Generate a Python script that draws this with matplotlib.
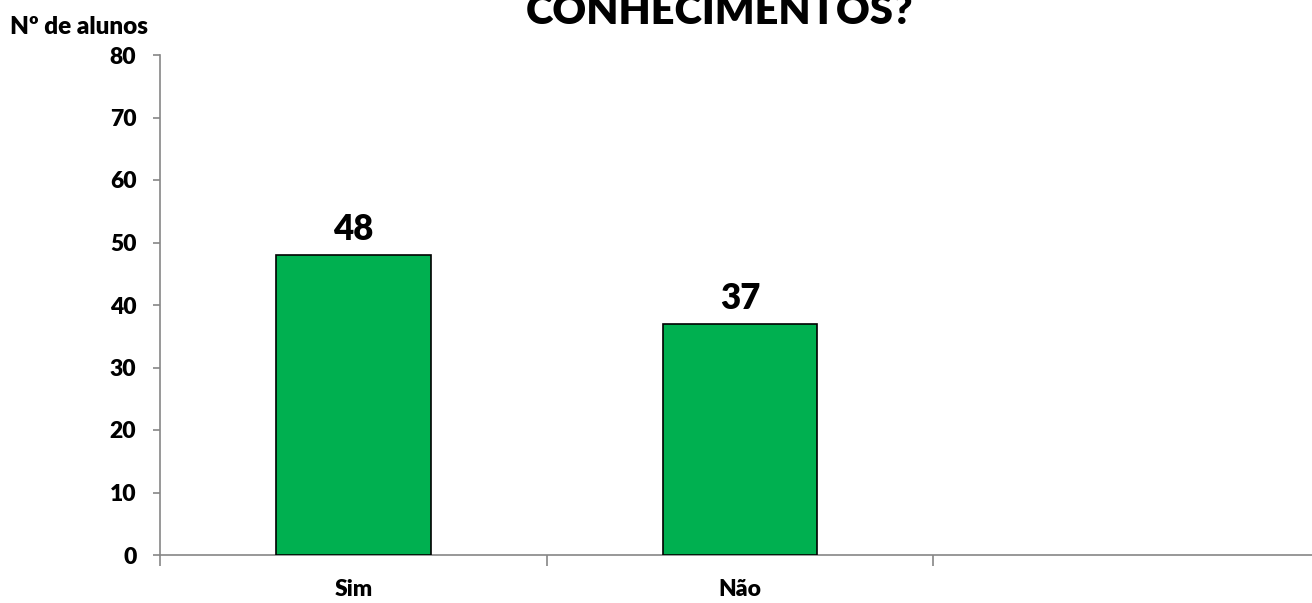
import matplotlib
matplotlib.use("Agg")
import matplotlib.pyplot as plt

categories = ["Sim", "Não", ""]
values = [48, 37, None]
yticks = [0, 10, 20, 30, 40, 50, 60, 70, 80]

plt.rcParams['font.family'] = ['Lato', 'DejaVu Sans']

WT = "heavy"
fig = plt.figure(figsize=(13.12, 6.03), dpi=100)
W, H = 1312, 603
left, right = 160, 1320
top, bottom = 55, 555
ax = fig.add_axes([left / W, 1 - bottom / H, (right - left) / W, (bottom - top) / H])

xs = [i for i, v in enumerate(values) if v is not None]
vals = [v for v in values if v is not None]
ax.bar(xs, vals, width=0.40, color="#00B050", edgecolor="black", linewidth=1.2, zorder=3)
for x, v in zip(xs, vals):
    ax.text(x, v + 1.4, str(v), ha="center", va="bottom", fontsize=25, fontweight=WT)

ax.set_xlim(-0.5, len(categories) - 0.5)
ax.set_ylim(0, 80)
ax.set_yticks(yticks)
ax.set_yticklabels([str(t) for t in yticks], fontsize=16.5, fontweight=WT)
ax.set_xticks(range(len(categories)))
ax.set_xticklabels(categories, fontsize=16.5, fontweight=WT)
ax.tick_params(axis="x", length=0, pad=17)
ax.tick_params(axis="y", length=5, color="#868686", width=1.2, pad=12)
ax.set_xticks([-0.5, 0.5, 1.5], minor=True)
ax.tick_params(axis="x", which="minor", length=8, color="#868686", width=1.2, direction="out")

for s in ["top", "right"]:
    ax.spines[s].set_visible(False)
for s in ["left", "bottom"]:
    ax.spines[s].set_color("#868686")
    ax.spines[s].set_linewidth(1.2)

fig.text(10 / W, 1 - 27 / H, "Nº de alunos", fontsize=17.5, fontweight=WT, va="center", ha="left")
fig.text(720 / W, 1 - 12 / H, "CONHECIMENTOS?", fontsize=30, fontweight=WT, va="center", ha="center")

fig.savefig("out.png", dpi=100)
